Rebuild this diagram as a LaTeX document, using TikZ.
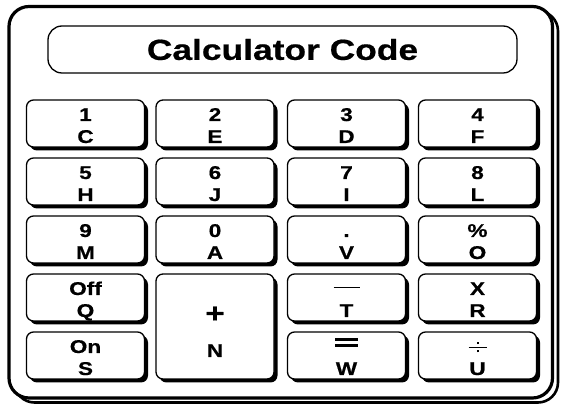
\documentclass[tikz,border=0pt]{standalone}
\usepackage{fontspec}
\setmainfont{Liberation Sans}[FakeStretch=1.22, BoldFeatures={FakeBold=0.6}]
\usetikzlibrary{shadows}
\newcommand\eqsign{\raisebox{6pt}{\vbox{\hrule width 23pt height 2.6pt\vskip 3.5pt\hrule width 23pt height 2.6pt}}}
\newcommand\divsign{\mbox{\rlap{\rule[5pt]{18pt}{1.2pt}}\rlap{\hspace{8pt}\rule[0.5pt]{2.2pt}{2.2pt}}\rlap{\hspace{8pt}\rule[8.8pt]{2.2pt}{2.2pt}}\hspace{18pt}}}
\newcommand\calckey[5]{%
  \node[keybox] (#1) at (#2,#3) {};
  \node[keylbl] (#1a) at ([yshift=2.5pt]#1.center) {#4};
  \node[keylbl] (#1b) at ([yshift=-19.5pt]#1.center) {#5};}
\tikzset{
  keybox/.style={draw, line width=1.3pt, rounded corners=7pt, fill=white, inner sep=0pt,
    minimum width=118pt, minimum height=47pt,
    drop shadow={shadow xshift=3.5pt, shadow yshift=-3.5pt, fill=black, opacity=1}},
  keylbl/.style={anchor=base, inner sep=0pt, font=\fontsize{18.5}{22}\selectfont\bfseries},
  titlebox/.style={draw, line width=1.3pt, rounded corners=14pt, fill=white,
    minimum width=469pt, minimum height=47pt, inner sep=0pt,
    font=\fontsize{29}{34}\selectfont\bfseries},
  frame/.style={draw, line width=3.2pt, rounded corners=20pt, fill=white},
  frameshadow/.style={draw, line width=2.6pt, rounded corners=20pt, fill=white}
}
\begin{document}
\begin{tikzpicture}[x=1pt,y=-1pt]
\useasboundingbox (0,0) rectangle (563,406);
\draw[frameshadow] (14.5,11) rectangle (558,402.5);
\draw[frame] (9,6.5) rectangle (552.5,398);
\node[titlebox] (title) at (282.5,49.5) {Calculator Code};
% row 1
\calckey{k1}{85.5}{123.5}{1}{C}
\calckey{k2}{215}{123.5}{2}{E}
\calckey{k3}{346.5}{123.5}{3}{D}
\calckey{k4}{477.5}{123.5}{4}{F}
% row 2
\calckey{k5}{85.5}{181.5}{5}{H}
\calckey{k6}{215}{181.5}{6}{J}
\calckey{k7}{346.5}{181.5}{7}{I}
\calckey{k8}{477.5}{181.5}{8}{L}
% row 3
\calckey{k9}{85.5}{239.5}{9}{M}
\calckey{k0}{215}{239.5}{0}{A}
\calckey{kdot}{346.5}{239.5}{.}{V}
\calckey{kpct}{477.5}{239.5}{\%}{O}
% row 4
\calckey{koff}{85.5}{297.5}{Off}{Q}
\calckey{kminus}{346.5}{297.5}{\rule[6.5pt]{26pt}{1.3pt}}{T}
\calckey{kmul}{477.5}{297.5}{X}{R}
% row 5
\calckey{kon}{85.5}{355.5}{On}{S}
\calckey{keq}{346.5}{355.5}{\eqsign}{W}
\calckey{kdiv}{477.5}{355.5}{\divsign}{U}
% big plus key
\node[keybox, minimum height=105pt] (kplus) at (215,326.5) {};
\node[keylbl, font=\fontsize{27}{27}\selectfont\bfseries] (kplusa) at ([yshift=4pt]kplus.center) {+};
\node[keylbl] (kplusb) at ([yshift=-30.5pt]kplus.center) {N};
\end{tikzpicture}
\end{document}
